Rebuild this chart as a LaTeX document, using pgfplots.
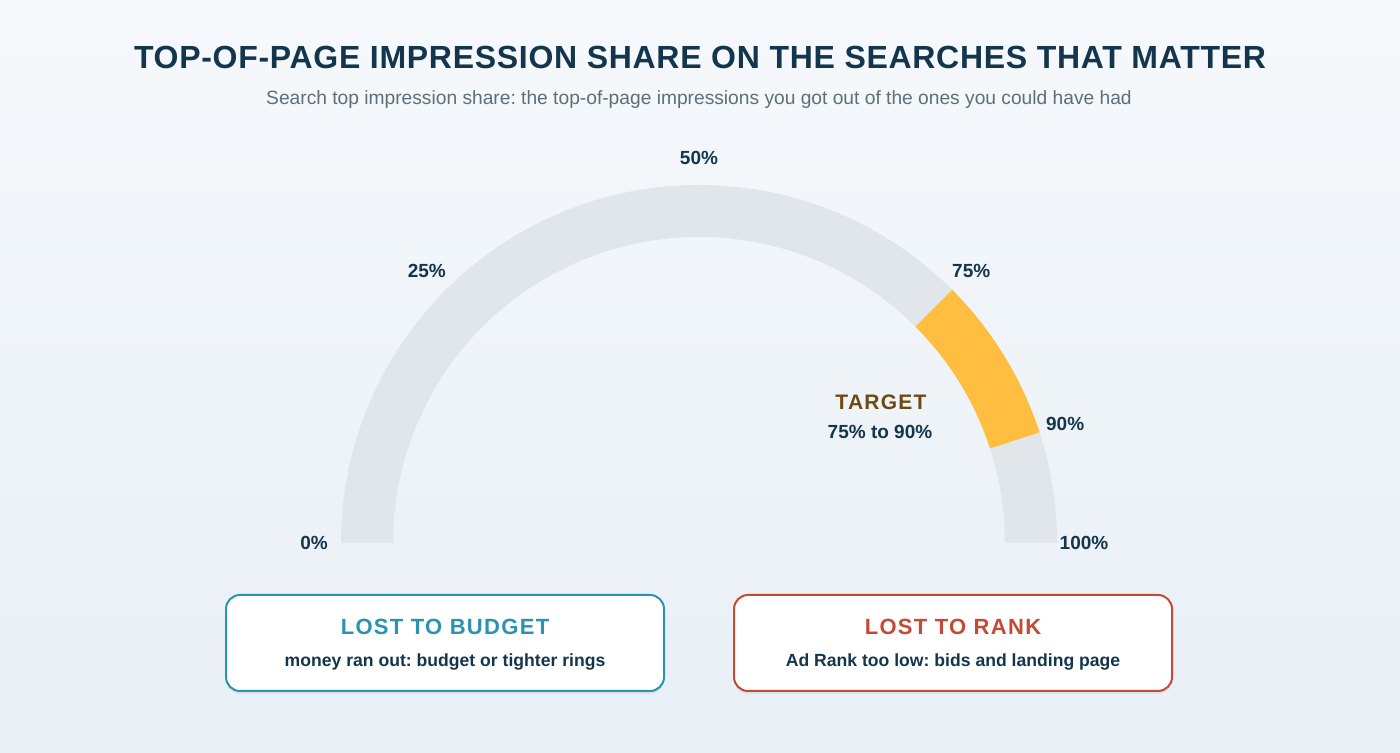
\documentclass[border=0pt]{standalone}
\usepackage{pgfplots}
\pgfplotsset{compat=1.18}
\usepackage{fontspec}
\setmainfont{Liberation Sans}
\newfontfamily\spaced[LetterSpace=6]{Liberation Sans}
\newfontfamily\titlefont[LetterSpace=2.2]{Liberation Sans}
\usetikzlibrary{shadows}
\frenchspacing

\definecolor{navy}{HTML}{14364C}
\definecolor{subgrey}{HTML}{5F6E79}
\definecolor{track}{HTML}{E0E6EA}
\definecolor{goal}{HTML}{FFBE40}
\definecolor{goaltxt}{HTML}{6E4A12}
\definecolor{budget}{HTML}{2A93B0}
\definecolor{rank}{HTML}{C44A35}
\definecolor{bgtop}{HTML}{F6F9FC}
\definecolor{bgbot}{HTML}{E8EFF5}

% gauge: percent -> angle, radii in pt (1 px = 0.5 pt)
\newcommand{\band}[3]{%
  \fill[#3] ([shift={(axis cs:699,210)}]{180-1.8*#1}:179pt)
    arc[start angle={180-1.8*#1}, end angle={180-1.8*#2}, radius=179pt]
    -- ([shift={(axis cs:699,210)}]{180-1.8*#2}:153pt)
    arc[start angle={180-1.8*#2}, end angle={180-1.8*#1}, radius=153pt] -- cycle;}

\begin{document}
\begin{tikzpicture}
\begin{axis}[
    width=700pt, height=376.5pt, scale only axis,
    xmin=0, xmax=1400, ymin=0, ymax=753,
    hide axis, clip=false]
  \fill[top color=bgtop, bottom color=bgbot] (axis cs:0,0) rectangle (axis cs:1400,753);

  \node[font=\titlefont\bfseries\fontsize{16}{19}\selectfont, text=navy] at (axis cs:700,696) {TOP-OF-PAGE IMPRESSION SHARE ON THE SEARCHES THAT MATTER};
  \node[font=\fontsize{9.6}{11}\selectfont, text=subgrey] at (axis cs:699,653) {Search top impression share: the top-of-page impressions you got out of the ones you could have had};

  % track 0-100, target band 75-90
  \band{0}{100}{track}
  \band{75}{90}{goal}

  \pgfplotsinvokeforeach{0,25,50,75,90,100}{
    \node[font=\bfseries\fontsize{9.5}{11}\selectfont, text=navy]
      at ([shift={(axis cs:699,210)}]{180-1.8*#1}:192.5pt) {#1\%};
  }

  \node[font=\spaced\bfseries\fontsize{10.5}{12}\selectfont, text=goaltxt] at (axis cs:881,351) {TARGET};
  \node[font=\bfseries\fontsize{9.5}{11}\selectfont, text=navy] at (axis cs:880,321) {75\% to 90\%};

  % boxes
  \filldraw[draw=budget, line width=1pt, fill=white, rounded corners=7pt,
    drop shadow={opacity=0.12, shadow xshift=0pt, shadow yshift=-1.5pt}]
    (axis cs:226,62) rectangle (axis cs:664,158);
  \filldraw[draw=rank, line width=1pt, fill=white, rounded corners=7pt,
    drop shadow={opacity=0.12, shadow xshift=0pt, shadow yshift=-1.5pt}]
    (axis cs:734,62) rectangle (axis cs:1172,158);
  \node[font=\spaced\bfseries\fontsize{11}{13}\selectfont, text=budget] at (axis cs:445,126) {LOST TO BUDGET};
  \node[font=\bfseries\fontsize{8.8}{11}\selectfont, text=navy] at (axis cs:445,91) {money ran out: budget or tighter rings};
  \node[font=\spaced\bfseries\fontsize{11}{13}\selectfont, text=rank] at (axis cs:953,126) {LOST TO RANK};
  \node[font=\bfseries\fontsize{8.8}{11}\selectfont, text=navy] at (axis cs:953,91) {Ad Rank too low: bids and landing page};
\end{axis}
\end{tikzpicture}
\end{document}
